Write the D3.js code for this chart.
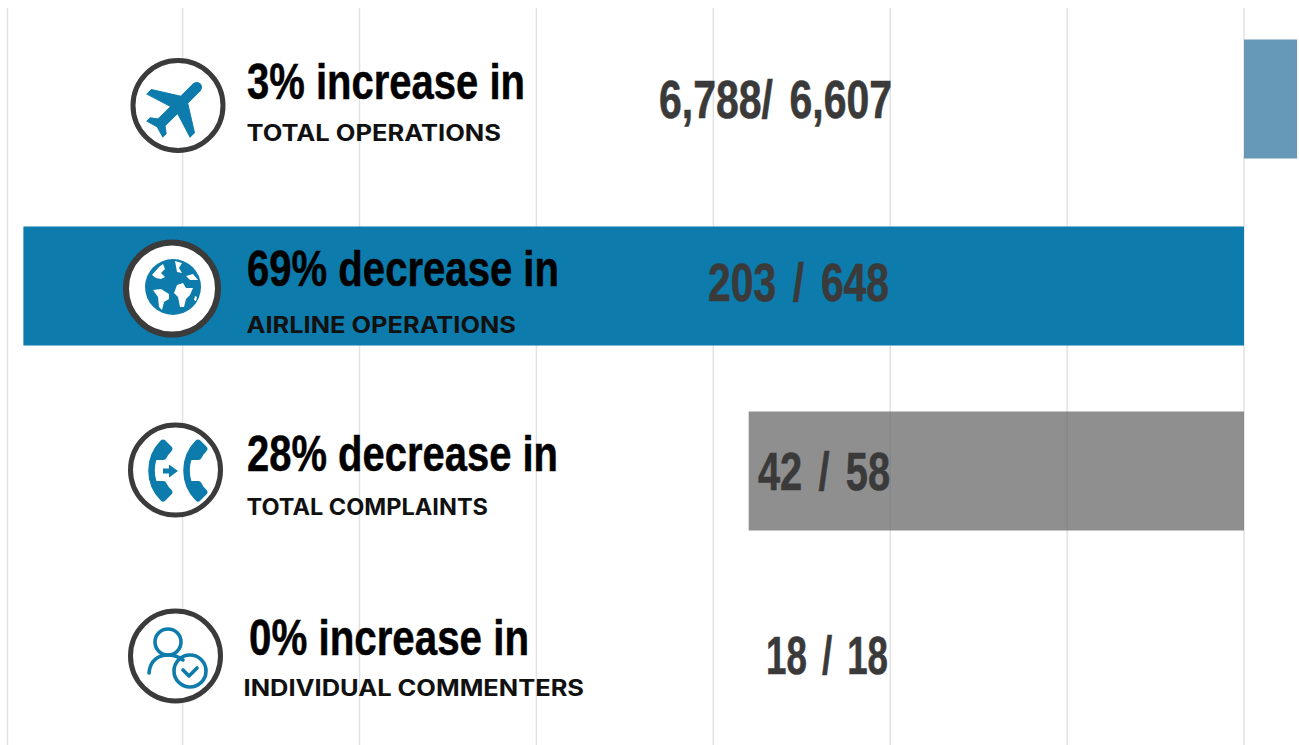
<!DOCTYPE html>
<html><head><meta charset="utf-8">
<script src="https://cdn.jsdelivr.net/npm/d3@7"></script>
<style>html,body{margin:0;padding:0;background:#fff;overflow:hidden}svg{display:block}</style>
</head><body><svg id="c" width="1299" height="745"></svg>
<script>
const categories=["TOTAL OPERATIONS","AIRLINE OPERATIONS","TOTAL COMPLAINTS","INDIVIDUAL COMMENTERS"];
const changes=[3,-69,-28,0];
const headlines=["3% increase in","69% decrease in","28% decrease in","0% increase in"];
const counts=["6,788/ 6,607","203 / 648","42 / 58","18 / 18"];
const ticks=[-69.9,-60,-50,-40,-30,-20,-10,0];

const x=d3.scaleLinear().domain([-70,0]).range([5.7,1244]);
const yc=[99,286,471,656];
const svg=d3.select("#c");
svg.append("g").selectAll("line").data(ticks).join("line")
 .attr("x1",d=>x(d)).attr("x2",d=>x(d)).attr("y1",8).attr("y2",745)
 .attr("stroke","#e2e2e2").attr("stroke-width",1.5);
const bh=119;
const barFill=["#6699b8","#0d7bab","#5f5f5f","#5f5f5f"], barAlpha=[1,1,0.7,0.7];
svg.append("g").selectAll("rect").data(changes).join("rect")
 .attr("x",d=>Math.min(x(d),x(0))).attr("width",d=>Math.abs(x(d)-x(0)))
 .attr("y",(d,i)=>yc[i]-bh/2).attr("height",bh)
 .attr("fill",(d,i)=>barFill[i]).attr("fill-opacity",(d,i)=>barAlpha[i]);

// icon badges
const bx=[178,172,175.5,175.5],by=[105.5,288.5,470,656],br=[45,46,45,45],bw=[5,6,5,5];
svg.append("g").selectAll("circle").data(categories).join("circle")
 .attr("cx",(d,i)=>bx[i]).attr("cy",(d,i)=>by[i]).attr("r",(d,i)=>br[i])
 .attr("fill","#fff").attr("stroke","#3b3b3b").attr("stroke-width",(d,i)=>bw[i]);
const blue="#0d7bab";
// plane
svg.append("path").attr("transform","translate(177.5,106.5) rotate(45) scale(3.2) translate(-11.5,-12)")
 .attr("fill",blue).attr("stroke",blue).attr("stroke-width",0.3).attr("d","M21 16v-2l-8-5V3.5c0-.83-.67-1.5-1.5-1.5S10 2.67 10 3.5V9l-8 5v2l8-2.5V19l-2 1.5V22l3.5-1 3.5 1v-1.5L13 19v-5.5l8 2.5z");
// globe
const g=svg.append("g").attr("transform","translate(173,287)");
g.append("circle").attr("r",28).attr("fill",blue);
g.append("path").attr("fill","#fff").attr("d","M-21,-12 L-14,-20 L-10,-23 L-8,-18 L-12,-14 L-8,-10 L-12,-8 L-17,-9 Z M2,-26 L9,-24 L6,-19 L9,-14 L4,-15 Z M-20,3 L-12,2 L-4,7 L-4,12 L-9,15 L-11,23 L-14,20 L-15,10 Z M4,-2 L10,-4 L13,1 L20,1 L17,8 L13,12 L11,20 L7,20 L5,10 L1,6 Z M13,-11 L20,-13 L25,-7 L17,-7 Z M22,9 L24,10 L23,14 L21,13 Z");
// phones
const phone="M6.62 10.79c1.44 2.83 3.76 5.14 6.59 6.59l2.2-2.2c.27-.27.67-.36 1.02-.24 1.12.37 2.33.57 3.57.57.55 0 1 .45 1 1V20c0 .55-.45 1-1 1-9.39 0-17-7.61-17-17 0-.55.45-1 1-1h3.5c.55 0 1 .45 1 1 0 1.25.2 2.45.57 3.57.11.35.03.74-.25 1.02l-2.2 2.2z";
[[163,470.5],[198,470.5]].forEach(p=>svg.append("path").attr("transform",`translate(${p[0]},${p[1]}) rotate(45) scale(2.45) translate(-12,-12)`)
 .attr("fill",blue).attr("stroke",blue).attr("stroke-width",0.7).attr("stroke-linejoin","round").attr("d",phone));
svg.append("path").attr("fill",blue).attr("d","M163,468.5h6v-4l9,6.5l-9,6.5v-4h-6z");
// person
const u=svg.append("g").attr("fill","none").attr("stroke",blue).attr("stroke-width",3.6).attr("stroke-linecap","round").attr("stroke-linejoin","round");
u.append("circle").attr("cx",168).attr("cy",642).attr("r",13);
u.append("path").attr("d","M149,673 C150,660 159,655 168,655 C174,655 179,657 183,660");
u.append("circle").attr("cx",190).attr("cy",671).attr("r",16);
u.append("path").attr("d","M183,670 L189,676 L197,668");

// text
const condensed="'Liberation Sans Narrow','Liberation Sans'";
const headX=[247,247,247,249],headW=[278,312,311,280],headY=[98.5,285.5,470.5,654.5];
const subX=[246.5,246.5,246.5,243.5],subW=[254.5,269.5,241.5,340.5],subY=[141,333,515,696];
const cntX=[659,708,758,766],cntW=[233,181,132,122],cntY=[117.5,300.5,489.5,674];
svg.append("g").selectAll("text").data(headlines).join("text").text(d=>d)
 .attr("x",(d,i)=>headX[i]).attr("y",(d,i)=>headY[i]).attr("textLength",(d,i)=>headW[i]).attr("lengthAdjust","spacingAndGlyphs")
 .attr("font-family",condensed).attr("font-weight",700).attr("font-size",50).attr("fill","#000").attr("stroke","#000").attr("stroke-width",0.5);
svg.append("g").selectAll("text").data(categories).join("text").text(d=>d)
 .attr("x",(d,i)=>subX[i]).attr("y",(d,i)=>subY[i]).attr("textLength",(d,i)=>subW[i]).attr("lengthAdjust","spacingAndGlyphs")
 .attr("font-family","Inter,'Open Sans'").attr("font-weight",700).attr("font-size",22.5).attr("fill","#111");
svg.append("g").selectAll("text").data(counts).join("text").text(d=>d)
 .attr("x",(d,i)=>cntX[i]).attr("y",(d,i)=>cntY[i]).attr("textLength",(d,i)=>cntW[i]).attr("lengthAdjust","spacingAndGlyphs")
 .attr("font-family",condensed).attr("font-weight",700).attr("font-size",53).attr("word-spacing",7).attr("fill","#3a3a3a").attr("stroke","#3a3a3a").attr("stroke-width",0.6);
</script></body></html>
